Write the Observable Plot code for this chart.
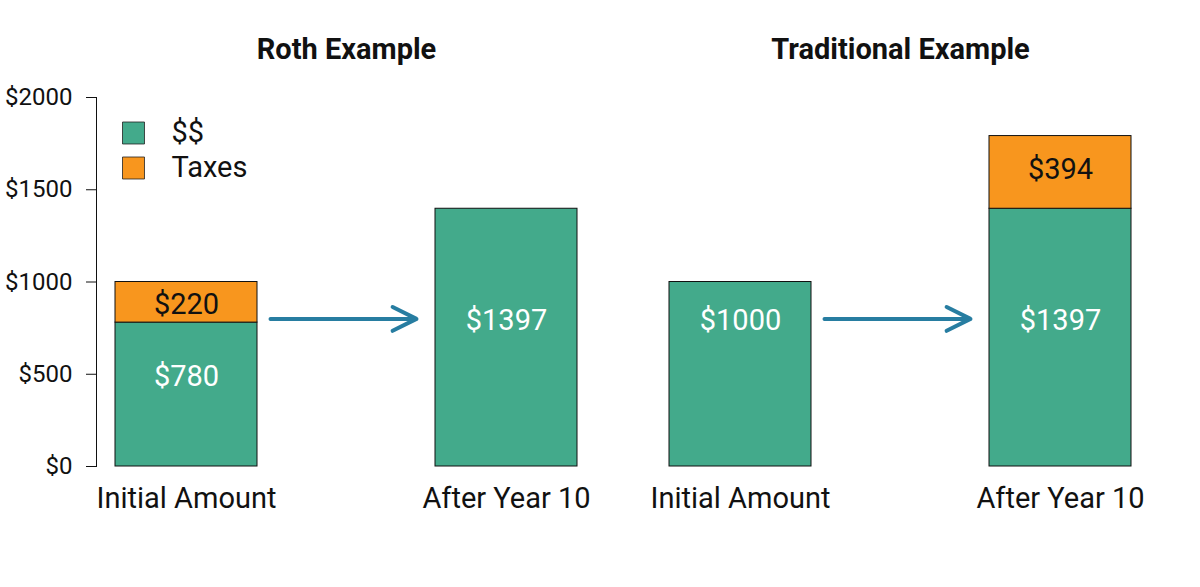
<!DOCTYPE html>
<html>
<head>
<meta charset="utf-8">
<script src="https://cdn.jsdelivr.net/npm/d3@7"></script>
<script src="https://cdn.jsdelivr.net/npm/@observablehq/plot@0.6"></script>
<style>
  html, body { margin: 0; padding: 0; background: #fff; }
  #chart { width: 1200px; height: 587px; }
</style>
</head>
<body>
<div id="chart"></div>
<script>
// ---- data ----
const panels = ["Roth Example", "Traditional Example"];
const stages = ["Initial Amount", "After Year 10"];
const seriesNames = ["$$", "Taxes"];
const seriesColors = ["#43AA8B", "#F8961E"];
// values per panel, per stage
const dollarValues = [[780, 1397], [1000, 1397]];
const taxValues = [[220, 0], [0, 394]];
// label anchor values (data units)
const dollarLabelY = [[495, 800], [800, 800]];
const taxLabelY = [[890, null], [null, 1620]];
const arrowY = [800, 800];
const yTicks = [0, 500, 1000, 1500, 2000];

// ---- build table ----
const rows = [];
panels.forEach((p, pi) => {
  stages.forEach((s, si) => {
    rows.push({panel: p, stage: s, type: "$$", value: dollarValues[pi][si], labelY: dollarLabelY[pi][si]});
    if (taxValues[pi][si] > 0)
      rows.push({panel: p, stage: s, type: "Taxes", value: taxValues[pi][si], labelY: taxLabelY[pi][si]});
  });
});
const arrows = panels.map((p, i) => ({panel: p, from: stages[0], to: stages[1], y: arrowY[i]}));

const legendMarks = seriesNames.flatMap((name, i) => [
  Plot.dot([name], {fx: () => panels[0], frameAnchor: "top-left", dx: 37, dy: 35.5 + 35 * i,
    symbol: "square", r: 12.4, fill: d => d, stroke: "#222", strokeWidth: 0.8}),
  Plot.text([name], {fx: () => panels[0], frameAnchor: "top-left", dx: 75, dy: 35.5 + 35 * i,
    text: d => d, textAnchor: "start", lineAnchor: "middle", fontSize: 29, fill: "#111"})
]);

const chart = Plot.plot({
  width: 1200,
  height: 587,
  marginTop: 97,
  marginBottom: 121,
  marginLeft: 96,
  marginRight: 50,
  style: {fontFamily: "Roboto, 'Noto Sans', sans-serif", color: "#111", background: "#fff"},
  fx: {domain: panels, paddingInner: 54 / 554, paddingOuter: 0, axis: null, label: null},
  x: {domain: stages, paddingInner: 178 / 320, paddingOuter: 19 / 320, label: null},
  y: {domain: [0, 2000], label: null},
  color: {domain: seriesNames, range: seriesColors},
  marks: [
    Plot.frame({anchor: "left", facet: "super", stroke: "#111"}),
    Plot.axisY({ticks: yTicks, tickFormat: d => "$" + d, tickSize: 10, tickPadding: 14, fontSize: 24, label: null, stroke: "#111"}),
    Plot.axisX({tickSize: 0, tickPadding: 21, fontSize: 29, label: null}),
    Plot.barY(rows, {fx: "panel", x: "stage", y: "value", fill: "type", stroke: "#111", strokeWidth: 1}),
    Plot.text(rows, {fx: "panel", x: "stage", y: "labelY", text: d => "$" + d.value,
      fill: d => d.type === "$$" ? "#ffffff" : "#111", fontSize: 29, lineAnchor: "middle", dy: 2}),
    Plot.arrow(arrows, {fx: "panel", x1: "from", x2: "to", y1: "y", y2: "y",
      stroke: "#277DA1", strokeWidth: 4, headLength: 10, headAngle: 53, insetStart: 84, insetEnd: 90}),
    Plot.text(panels, {fx: d => d, text: d => d, frameAnchor: "top", dy: -48, lineAnchor: "middle",
      fontSize: 29, fontWeight: "bold", fill: "#111"}),
    ...legendMarks
  ]
});
document.getElementById("chart").appendChild(chart);
</script>
</body>
</html>
